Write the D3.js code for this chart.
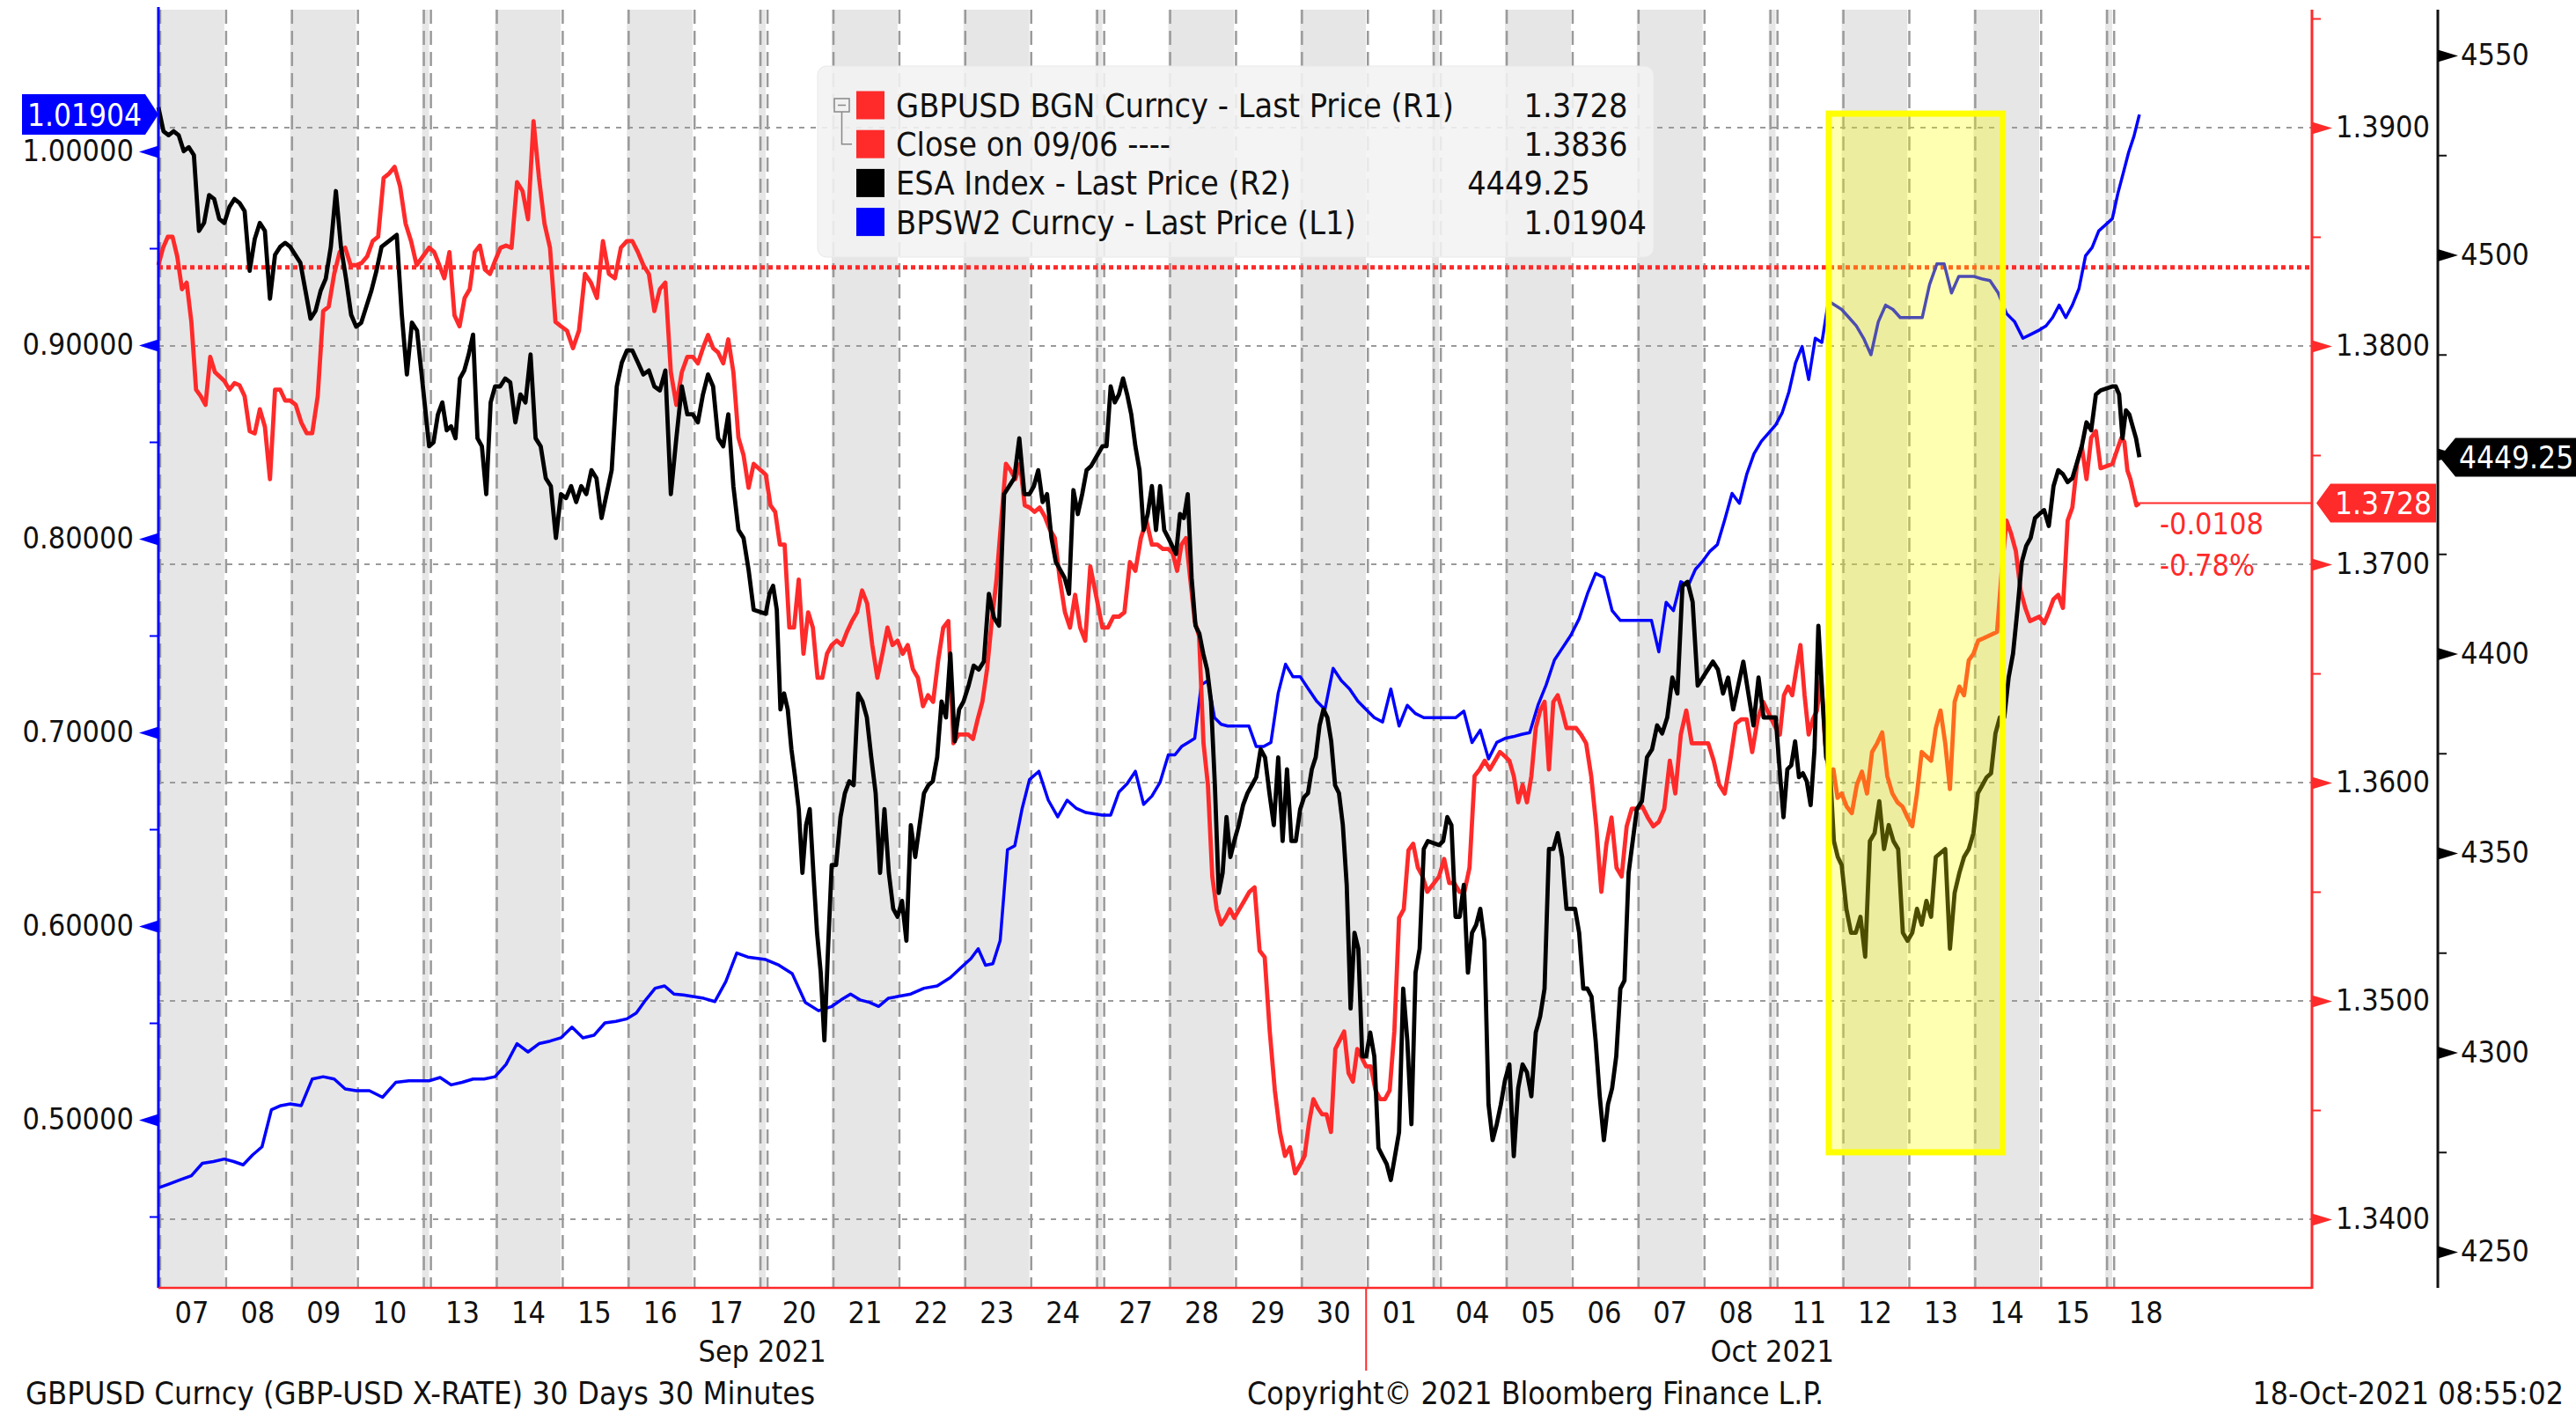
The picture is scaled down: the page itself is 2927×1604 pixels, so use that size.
<!DOCTYPE html>
<html>
<head>
<meta charset="utf-8">
<script src="https://cdn.jsdelivr.net/npm/d3@7"></script>
<style>
  html, body { margin: 0; padding: 0; background: #fff; overflow: hidden; }
</style>
</head>
<body>
<svg id="chart" width="2927" height="1604"></svg>
<script>
// trading sessions on the axis (07 Sep .. 18 Oct 2021)
const dayLabels = ["07","08","09","10","13","14","15","16","17","20","21","22","23","24","27","28","29","30",
                   "01","04","05","06","07","08","11","12","13","14","15","18"];
const months = [{ label: "Sep 2021", first: 0, last: 17 }, { label: "Oct 2021", first: 18, last: 29 }];
// day indices followed by a weekend break
const weekendAfter = [3, 8, 13, 18, 23, 28];
// share of the last session (18 Oct) that has data
const lastSpan = 0.41;

const seriesNames = ["GBPUSD BGN Curncy - Last Price (R1)", "Close on 09/06 ----",
                     "ESA Index - Last Price (R2)", "BPSW2 Curncy - Last Price (L1)"];
const prevClose = 1.3836;

// GBPUSD (R1), one array per session
const gbpusd = [
  [1.3837,1.3845,1.3850,1.3850,1.3841,1.3826,1.3829,1.3811,1.3780,1.3777,1.3773,1.3795,1.3788,1.3786],
  [1.3784,1.3780,1.3783,1.3782,1.3777,1.3761,1.3760,1.3771,1.3763,1.3739,1.3780,1.3780,1.3775],
  [1.3775,1.3773,1.3765,1.3760,1.3760,1.3777,1.3816,1.3818,1.3833,1.3843,1.3845,1.3837],
  [1.3837,1.3838,1.3841,1.3848,1.3850,1.3877,1.3879,1.3882,1.3873,1.3856,1.3848,1.3837],
  [1.3845,1.3843,1.3837,1.3831,1.3843,1.3814,1.3809,1.3822,1.3826,1.3843,1.3846,1.3835,1.3833],
  [1.3839,1.3845,1.3846,1.3845,1.3875,1.3871,1.3858,1.3903,1.3877,1.3856,1.3845,1.3811],
  [1.3809,1.3807,1.3799,1.3807,1.3833,1.3829,1.3822,1.3848,1.3833,1.3831,1.3845],
  [1.3848,1.3848,1.3843,1.3837,1.3833,1.3816,1.3826,1.3829,1.3788,1.3773,1.3788,1.3795],
  [1.3795,1.3792,1.3799,1.3805,1.3799,1.3797,1.3792,1.3803,1.3788,1.3758,1.3750,1.3735,1.3746],
  [1.3741,1.3727,1.3724,1.3709,1.3709,1.3671,1.3671,1.3693,1.3659,1.3678,1.3671,1.3648,1.3648,1.3659],
  [1.3663,1.3665,1.3663,1.3669,1.3674,1.3678,1.3688,1.3682,1.3663,1.3648,1.3659,1.3671,1.3663],
  [1.3665,1.3659,1.3663,1.3652,1.3648,1.3635,1.3640,1.3637,1.3656,1.3671,1.3674,1.3618,1.3622],
  [1.3622,1.3622,1.3620,1.3629,1.3637,1.3652,1.3674,1.3693,1.3720,1.3746,1.3743,1.3739,1.3746,1.3727],
  [1.3726,1.3724,1.3726,1.3722,1.3716,1.3712,1.3693,1.3678,1.3671,1.3686,1.3671,1.3665,1.3699],
  [1.3671,1.3671,1.3676,1.3676,1.3678,1.3701,1.3697,1.3712,1.3720,1.3709,1.3709,1.3707],
  [1.3707,1.3705,1.3697,1.3709,1.3712,1.3693,1.3674,1.3667,1.3618,1.3599,1.3557,1.3542,1.3535,1.3538,1.3542],
  [1.3538,1.3542,1.3546,1.3550,1.3552,1.3523,1.3520,1.3486,1.3459,1.3440,1.3429,1.3433,1.3421],
  [1.3425,1.3429,1.3444,1.3455,1.3451,1.3448,1.3448,1.3440,1.3478,1.3482,1.3486,1.3467,1.3463,1.3478,1.3474],
  [1.3470,1.3470,1.3459,1.3455,1.3455,1.3459,1.3486,1.3538,1.3542,1.3569,1.3572,1.3561,1.3557,1.3550],
  [1.3557,1.3565,1.3554,1.3554,1.3550,1.3550,1.3561,1.3603,1.3606,1.3610,1.3606,1.3610,1.3614],
  [1.3612,1.3610,1.3603,1.3591,1.3599,1.3591,1.3603,1.3625,1.3633,1.3637,1.3606,1.3637,1.3640,1.3633,1.3625],
  [1.3625,1.3625,1.3622,1.3618,1.3603,1.3580,1.3550,1.3572,1.3584,1.3561,1.3557,1.3580,1.3588],
  [1.3588,1.3589,1.3584,1.3580,1.3582,1.3588,1.3610,1.3595,1.3622,1.3633,1.3618,1.3618],
  [1.3618,1.3618,1.3610,1.3599,1.3595,1.3610,1.3627,1.3629,1.3629,1.3614,1.3629,1.3637],
  [1.3625,1.3622,1.3640,1.3644,1.3640,1.3652,1.3663,1.3640,1.3622,1.3629,1.3633,1.3648,1.3618,1.3603,1.3606,1.3593],
  [1.3595,1.3589,1.3586,1.3599,1.3605,1.3595,1.3614,1.3618,1.3623,1.3603,1.3595,1.3591,1.3589],
  [1.3584,1.3580,1.3595,1.3614,1.3612,1.3610,1.3625,1.3633,1.3618,1.3597,1.3637,1.3644,1.3640,1.3656],
  [1.3659,1.3665,1.3666,1.3667,1.3668,1.3669,1.3697,1.3720,1.3714,1.3706,1.3688,1.3680,1.3674,1.3675],
  [1.3676,1.3673,1.3678,1.3684,1.3686,1.3680,1.3720,1.3726,1.3746,1.3754,1.3739,1.3758,1.3761,1.3744],
  [1.3746,1.3750,1.3754,1.3758,1.3756,1.3743,1.3739,1.3733,1.3727,1.3728]
];

// ESA Index (R2)
const esa = [
  [4537,4531,4530,4531,4530,4526,4527,4525,4506,4508,4515,4514,4509],
  [4508,4512,4514,4513,4511,4496,4504,4508,4506,4489,4500,4502,4503],
  [4502,4500,4498,4491,4484,4486,4491,4494,4502,4516,4502,4494,4485],
  [4482,4483,4487,4491,4496,4502,4503,4504,4505,4485,4470,4483,4481],
  [4452,4453,4460,4463,4456,4457,4454,4469,4471,4475,4480,4454,4452,4440,4463],
  [4467,4467,4469,4468,4458,4465,4463,4475,4454,4452,4444,4442,4429],
  [4440,4439,4442,4438,4442,4440,4446,4444,4434,4440,4446,4467,4473],
  [4476,4476,4473,4470,4471,4467,4466,4471,4440,4454,4467,4460],
  [4460,4458,4465,4470,4467,4454,4452,4460,4442,4431,4429,4421,4411],
  [4410,4415,4417,4411,4386,4390,4386,4376,4369,4361,4345,4357,4361,4345,4330,4320,4303,4326],
  [4347,4347,4359,4365,4368,4367,4390,4388,4384,4374,4365,4345,4361,4345,4336],
  [4334,4338,4328,4357,4349,4357,4365,4367,4368,4374,4388,4384,4400,4378,4386],
  [4388,4392,4397,4396,4398,4415,4409,4407,4440,4442,4444,4454,4440],
  [4440,4442,4446,4438,4440,4429,4423,4421,4419,4415,4441,4435,4440,4446,4447],
  [4452,4452,4467,4463,4465,4469,4465,4460,4452,4446,4431,4435,4442,4431,4442,4431],
  [4429,4427,4425,4435,4434,4440,4419,4407,4405,4400,4396,4388,4367,4340,4345,4359,4349],
  [4353,4357,4362,4365,4367,4369,4376,4374,4365,4357,4374,4353,4371,4353,4353],
  [4361,4364,4365,4371,4374,4382,4386,4384,4378,4367,4365,4357,4342,4311,4330,4326,4299],
  [4299,4305,4299,4276,4274,4272,4268,4274,4280,4316,4303,4282,4320,4326,4351,4353],
  [4352,4353,4359,4357,4334,4334,4342,4320,4330,4332,4336,4328,4287,4278,4282,4287],
  [4293,4297,4274,4291,4297,4295,4289,4305,4309,4316,4351,4351,4355,4349,4336],
  [4336,4336,4330,4316,4316,4314,4303,4289,4278,4287,4291,4299,4316,4318,4345,4353],
  [4361,4363,4374,4376,4382,4380,4384,4394,4390,4417,4418,4413,4392],
  [4394,4396,4398,4396,4390,4394,4386,4392,4398,4390,4382,4394,4384],
  [4384,4371,4359,4371,4372,4378,4369,4370,4368,4362,4376,4407,4390,4374,4371,4353,4349],
  [4347,4336,4330,4330,4334,4324,4353,4355,4363,4351,4357,4353,4351,4330],
  [4328,4330,4336,4332,4338,4334,4349,4350,4351,4326,4340,4345,4349,4351],
  [4355,4365,4367,4369,4370,4380,4384,4384,4394,4400,4411,4423,4427,4429,4434],
  [4435,4436,4432,4442,4446,4445,4443,4444,4448,4452,4458,4456,4465,4466],
  [4467,4467,4465,4454,4461,4460,4457,4454,4449.25]
];

// BPSW2 Curncy (L1)
const bpsw2 = [
  [0.4648,0.4669,0.4690,0.4711,0.4775,0.4784],
  [0.4797,0.4784,0.4767,0.4818,0.4860,0.5052,0.5073],
  [0.5082,0.5073,0.5210,0.5222,0.5210,0.5159],
  [0.5150,0.5150,0.5116,0.5193,0.5201],
  [0.5201,0.5218,0.5180,0.5193,0.5210,0.5210],
  [0.5222,0.5286,0.5393,0.5350,0.5393,0.5406],
  [0.5423,0.5478,0.5423,0.5436,0.5500,0.5508],
  [0.5521,0.5551,0.5619,0.5679,0.5691,0.5649,0.5644],
  [0.5636,0.5627,0.5610,0.5713,0.5861,0.5840],
  [0.5827,0.5798,0.5755,0.5606,0.5563],
  [0.5585,0.5619,0.5649,0.5619,0.5606,0.5585,0.5627],
  [0.5636,0.5649,0.5679,0.5691,0.5734],
  [0.5798,0.5832,0.5883,0.5798,0.5806,0.5925,0.6394,0.6415,0.6607],
  [0.6756,0.6799,0.6650,0.6564,0.6650,0.6607,0.6586],
  [0.6573,0.6573,0.6692,0.6735,0.6799,0.6628,0.6671,0.6743],
  [0.6884,0.6884,0.6927,0.6948,0.6969,0.7246,0.7267,0.7076,0.7042,0.7033],
  [0.7033,0.7033,0.7033,0.6927,0.6927,0.6948,0.7203,0.7352,0.7288],
  [0.7288,0.7224,0.7161,0.7118,0.7331,0.7267,0.7224,0.7161],
  [0.7118,0.7076,0.7054,0.7224,0.7033,0.7140,0.7097,0.7076],
  [0.7076,0.7076,0.7076,0.7110,0.6948,0.7012,0.6863,0.6948],
  [0.6969,0.6978,0.6990,0.6999,0.7140,0.7246,0.7374,0.7438],
  [0.7502,0.7587,0.7715,0.7821,0.7800,0.7629,0.7578,0.7578],
  [0.7578,0.7578,0.7578,0.7416,0.7672,0.7629,0.7778,0.7757,0.7842],
  [0.7885,0.7936,0.7970,0.8098,0.8234,0.8183,0.8332,0.8439,0.8503],
  [0.8588,0.8652,0.8758,0.8907,0.8993,0.8822,0.9035,0.9014,0.9227,0.9206],
  [0.9184,0.9142,0.9099,0.9035,0.8950,0.9120,0.9206,0.9184,0.9142],
  [0.9142,0.9142,0.9142,0.9312,0.9419,0.9419,0.9269,0.9355,0.9355],
  [0.9355,0.9342,0.9333,0.9269,0.9163,0.9120,0.9035,0.9056],
  [0.9078,0.9099,0.9142,0.9206,0.9142,0.9206,0.9291,0.9461,0.9504,0.9589],
  [0.9653,0.9781,0.9887,0.9994,1.0079,1.01904]
];

const leftTicks = [0.5, 0.6, 0.7, 0.8, 0.9, 1.0];
const leftMinor = [0.45, 0.55, 0.65, 0.75, 0.85, 0.95];
const r1Ticks = [1.34, 1.35, 1.36, 1.37, 1.38, 1.39];
const r1Minor = [1.345, 1.355, 1.365, 1.375, 1.385, 1.395];
const r2Ticks = [4250, 4300, 4350, 4400, 4450, 4500, 4550];
const r2Minor = [4275, 4325, 4375, 4425, 4475, 4525];

// highlighted window: 11 Oct evening .. 14 Oct midday
const highlight = { fromDay: 24, fromFrac: 0.805, toDay: 27, toFrac: 0.445, top: 1.0195, bottom: 0.4832 };

const FONT = '"DejaVu Sans Condensed", "DejaVu Sans", sans-serif';
const RED = "#ff2a2a", BLUE = "#0000ff", GRID = "#9a9a9a";
const fmtSigned = f => v => f(v).replace("\u2212", "-");

const svg = d3.select("#chart").attr("font-family", FONT);
const plot = { left: 180, right: 2627, top: 11, bottom: 1463 };
const r2AxisX = 2770;
const gapUnits = 0.107;
const dayStart = d => d + weekendAfter.filter(w => w < d).length * gapUnits;

const x = d3.scaleLinear().domain([0, 32.67]).range([plot.left, plot.right]);
const yL = d3.scaleLinear().domain([0.41318, 1.07318]).range([plot.bottom, plot.top]);
const yR1 = d3.scaleLinear().domain([1.336855, 1.395403]).range([plot.bottom, plot.top]);
const yR2 = d3.scaleLinear().domain([4240.95, 4561.48]).range([plot.bottom, plot.top]);

function toPoints(days) {
  const pts = [];
  days.forEach((vals, d) => {
    const isLast = d === days.length - 1;
    const step = isLast ? lastSpan / (vals.length - 1) : 1 / vals.length;
    vals.forEach((v, j) => pts.push([dayStart(d) + j * step, v]));
  });
  return pts;
}

// sessions incl. the short Sunday slivers, shaded alternately
const sessions = [];
dayLabels.forEach((lab, d) => {
  if (d > 0 && weekendAfter.includes(d - 1)) sessions.push({ x0: dayStart(d) - gapUnits, x1: dayStart(d) });
  sessions.push({ x0: dayStart(d), x1: d === dayLabels.length - 1 ? x.domain()[1] : dayStart(d) + 1 });
});

svg.append("g").selectAll("rect")
  .data(sessions)
  .enter().append("rect")
  .attr("x", d => x(d.x0))
  .attr("y", plot.top)
  .attr("width", d => x(d.x1) - x(d.x0))
  .attr("height", plot.bottom - plot.top)
  .attr("fill", (d, i) => i % 2 === 0 ? "#e6e6e6" : "#ffffff");

// vertical session dividers
svg.append("g").selectAll("line")
  .data(sessions)
  .enter().append("line")
  .attr("x1", d => x(d.x0) + 2).attr("x2", d => x(d.x0) + 2)
  .attr("y1", plot.top).attr("y2", plot.bottom)
  .attr("stroke", GRID).attr("stroke-width", 2.5).attr("stroke-dasharray", "16,8");

// horizontal grid on R1 ticks
svg.append("g").selectAll("line")
  .data(r1Ticks)
  .enter().append("line")
  .attr("x1", plot.left).attr("x2", plot.right)
  .attr("y1", d => yR1(d)).attr("y2", d => yR1(d))
  .attr("stroke", GRID).attr("stroke-width", 2).attr("stroke-dasharray", "6,7");

// close on 09/06
svg.append("line")
  .attr("x1", plot.left).attr("x2", plot.right)
  .attr("y1", yR1(prevClose)).attr("y2", yR1(prevClose))
  .attr("stroke", RED).attr("stroke-width", 5).attr("stroke-dasharray", "5,4");

// series
const bluePts = toPoints(bpsw2), redPts = toPoints(gbpusd), blackPts = toPoints(esa);
svg.append("path").datum(bluePts)
  .attr("d", d3.line().x(p => x(p[0])).y(p => yL(p[1])))
  .attr("fill", "none").attr("stroke", BLUE).attr("stroke-width", 3.5).attr("stroke-linejoin", "round");
svg.append("path").datum(redPts)
  .attr("d", d3.line().x(p => x(p[0])).y(p => yR1(p[1])))
  .attr("fill", "none").attr("stroke", RED).attr("stroke-width", 4.8).attr("stroke-linejoin", "round");
svg.append("path").datum(blackPts)
  .attr("d", d3.line().x(p => x(p[0])).y(p => yR2(p[1])))
  .attr("fill", "none").attr("stroke", "#000").attr("stroke-width", 4.8).attr("stroke-linejoin", "round");

// last price line and change
const lastRed = redPts[redPts.length - 1];
svg.append("line")
  .attr("x1", x(lastRed[0])).attr("x2", plot.right)
  .attr("y1", yR1(lastRed[1])).attr("y2", yR1(lastRed[1]))
  .attr("stroke", RED).attr("stroke-width", 2);
const chg = lastRed[1] - prevClose;
svg.append("text").attr("x", x(lastRed[0]) + 23).attr("y", yR1(lastRed[1]) + 35)
  .attr("font-size", 34).attr("fill", RED).text(fmtSigned(d3.format(".4f"))(chg));
svg.append("text").attr("x", x(lastRed[0]) + 23).attr("y", yR1(lastRed[1]) + 82)
  .attr("font-size", 34).attr("fill", RED).text(fmtSigned(d3.format(".2f"))(chg / prevClose * 100) + "%");

// yellow highlight box
const hx0 = x(dayStart(highlight.fromDay) + highlight.fromFrac);
const hx1 = x(dayStart(highlight.toDay) + highlight.toFrac);
svg.append("rect")
  .attr("x", hx0).attr("y", yL(highlight.top))
  .attr("width", hx1 - hx0).attr("height", yL(highlight.bottom) - yL(highlight.top))
  .attr("fill", "#ffff00").attr("fill-opacity", 0.3)
  .attr("stroke", "#ffff00").attr("stroke-width", 7);

// legend
const legend = svg.append("g");
legend.append("rect").attr("x", 929).attr("y", 75).attr("width", 950).attr("height", 217)
  .attr("rx", 10).attr("fill", "#f2f2f2").attr("fill-opacity", 0.88).attr("stroke", "#e8e8e8");
const lastOf = arr => arr[arr.length - 1][arr[arr.length - 1].length - 1];
const legendRows = [
  { color: RED, value: d3.format(".4f")(lastOf(gbpusd)) },
  { color: RED, value: d3.format(".4f")(prevClose) },
  { color: "#000", value: d3.format(".2f")(lastOf(esa)) },
  { color: BLUE, value: d3.format(".5f")(lastOf(bpsw2)) }
];
const rowY = i => 119.5 + i * 44.2;
const decimalX = 1753;
const legendSize = 37.5;
legendRows.forEach((r, i) => {
  legend.append("rect").attr("x", 973).attr("y", rowY(i) - 16).attr("width", 32).attr("height", 32).attr("fill", r.color);
  legend.append("text").attr("x", 1018).attr("y", rowY(i)).attr("dy", "0.36em")
    .attr("font-size", legendSize).attr("fill", "#111").text(seriesNames[i]);
  const intPart = r.value.split(".")[0];
  const probe = legend.append("text").attr("font-size", legendSize).text(intPart);
  const w = probe.node().getComputedTextLength();
  probe.remove();
  legend.append("text").attr("x", decimalX - w).attr("y", rowY(i)).attr("dy", "0.36em")
    .attr("font-size", legendSize).attr("fill", "#111").text(r.value);
});
// tree marker linking the close line to its series
legend.append("rect").attr("x", 948).attr("y", 112).attr("width", 17).attr("height", 15)
  .attr("fill", "none").attr("stroke", "#888").attr("stroke-width", 1.5);
legend.append("line").attr("x1", 952).attr("x2", 961).attr("y1", 119.5).attr("y2", 119.5).attr("stroke", "#888").attr("stroke-width", 1.5);
legend.append("path").attr("d", `M956.5,127V${rowY(1)}H968`).attr("fill", "none").attr("stroke", "#888").attr("stroke-width", 1.5);

// axis lines
svg.append("line").attr("x1", plot.left).attr("x2", plot.left).attr("y1", 8).attr("y2", plot.bottom)
  .attr("stroke", BLUE).attr("stroke-width", 3);
svg.append("line").attr("x1", plot.right).attr("x2", plot.right).attr("y1", plot.top).attr("y2", plot.bottom + 1)
  .attr("stroke", RED).attr("stroke-width", 3);
svg.append("line").attr("x1", r2AxisX).attr("x2", r2AxisX).attr("y1", plot.top).attr("y2", plot.bottom)
  .attr("stroke", "#111").attr("stroke-width", 3);
svg.append("line").attr("x1", plot.left).attr("x2", plot.right).attr("y1", plot.bottom).attr("y2", plot.bottom)
  .attr("stroke", RED).attr("stroke-width", 2.5);

function tidy(g, size) {
  g.attr("font-family", FONT).attr("font-size", size);
  g.select(".domain").remove();
  g.selectAll(".tick text").attr("fill", "#111");
}

// left axis (L1)
svg.append("g").attr("transform", `translate(${plot.left},0)`)
  .call(d3.axisLeft(yL).tickValues(leftTicks).tickFormat(d3.format(".5f")).tickSize(0).tickPadding(28))
  .call(g => tidy(g, 34))
  .call(g => g.selectAll(".tick").append("path").attr("d", "M0,-7L-22,0L0,7Z").attr("fill", BLUE));
svg.append("g").attr("transform", `translate(${plot.left},0)`)
  .call(d3.axisLeft(yL).tickValues(leftMinor).tickFormat("").tickSize(10))
  .call(g => g.select(".domain").remove())
  .selectAll("line").attr("stroke", BLUE).attr("stroke-width", 2);

// right axis (R1)
svg.append("g").attr("transform", `translate(${plot.right},0)`)
  .call(d3.axisRight(yR1).tickValues(r1Ticks).tickFormat(d3.format(".4f")).tickSize(0).tickPadding(27))
  .call(g => tidy(g, 34))
  .call(g => g.selectAll(".tick").append("path").attr("d", "M0,-7L23,0L0,7Z").attr("fill", RED));
svg.append("g").attr("transform", `translate(${plot.right},0)`)
  .call(d3.axisRight(yR1).tickValues(r1Minor).tickFormat("").tickSize(10))
  .call(g => g.select(".domain").remove())
  .selectAll("line").attr("stroke", RED).attr("stroke-width", 2);

// right axis (R2)
svg.append("g").attr("transform", `translate(${r2AxisX},0)`)
  .call(d3.axisRight(yR2).tickValues(r2Ticks).tickFormat(d3.format("d")).tickSize(0).tickPadding(26))
  .call(g => tidy(g, 34))
  .call(g => g.selectAll(".tick").append("path").attr("d", "M0,-7L23,0L0,7Z").attr("fill", "#000"));
svg.append("g").attr("transform", `translate(${r2AxisX},0)`)
  .call(d3.axisRight(yR2).tickValues(r2Minor).tickFormat("").tickSize(10))
  .call(g => g.select(".domain").remove())
  .selectAll("line").attr("stroke", "#111").attr("stroke-width", 2);

// last value tags
const yb = yL(lastOf(bpsw2));
svg.append("path").attr("d", `M25,${yb - 23}H165L180,${yb}L165,${yb + 23}H25Z`).attr("fill", BLUE);
svg.append("text").attr("x", 96).attr("y", yb).attr("dy", "0.36em").attr("text-anchor", "middle")
  .attr("font-size", 35).attr("fill", "#fff").text(d3.format(".5f")(lastOf(bpsw2)));

const yr = yR1(lastRed[1]);
svg.append("path").attr("d", `M2632,${yr}L2648,${yr - 22}H2768V${yr + 22}H2648Z`).attr("fill", RED);
svg.append("text").attr("x", 2653).attr("y", yr).attr("dy", "0.36em")
  .attr("font-size", 35).attr("fill", "#fff").text(d3.format(".4f")(lastRed[1]));

const yk = yR2(lastOf(esa));
svg.append("path").attr("d", `M2772,${yk}L2790,${yk - 22}H2927V${yk + 22}H2790Z`).attr("fill", "#000");
svg.append("text").attr("x", 2794).attr("y", yk).attr("dy", "0.36em")
  .attr("font-size", 35).attr("fill", "#fff").text(d3.format(".2f")(lastOf(esa)));

// bottom axis: day labels
const dayCenters = dayLabels.map((_, d) => dayStart(d) + 0.5);
svg.append("g").attr("transform", `translate(0,${plot.bottom})`)
  .call(d3.axisBottom(x).tickValues(dayCenters).tickFormat((d, i) => dayLabels[i]).tickSize(0).tickPadding(16))
  .call(g => tidy(g, 34));

// months
months.forEach(m => {
  const a = x(dayStart(m.first)), b = x(dayStart(m.last) + 1);
  svg.append("text").attr("x", (a + b) / 2).attr("y", 1547).attr("text-anchor", "middle")
    .attr("font-size", 34).attr("fill", "#111").text(m.label);
});
svg.append("line").attr("x1", x(dayStart(months[1].first))).attr("x2", x(dayStart(months[1].first)))
  .attr("y1", plot.bottom).attr("y2", 1557).attr("stroke", RED).attr("stroke-width", 2);

// footer
svg.append("text").attr("x", 29).attr("y", 1595).attr("font-size", 36).attr("fill", "#111")
  .text("GBPUSD Curncy (GBP-USD X-RATE) 30 Days 30 Minutes");
svg.append("text").attr("x", 1417).attr("y", 1595).attr("font-size", 35.4).attr("fill", "#111")
  .text("Copyright\u00a9 2021 Bloomberg Finance L.P.");
svg.append("text").attr("x", 2913).attr("y", 1595).attr("text-anchor", "end").attr("font-size", 35.4).attr("fill", "#111")
  .text("18-Oct-2021 08:55:02");
</script>
</body>
</html>
